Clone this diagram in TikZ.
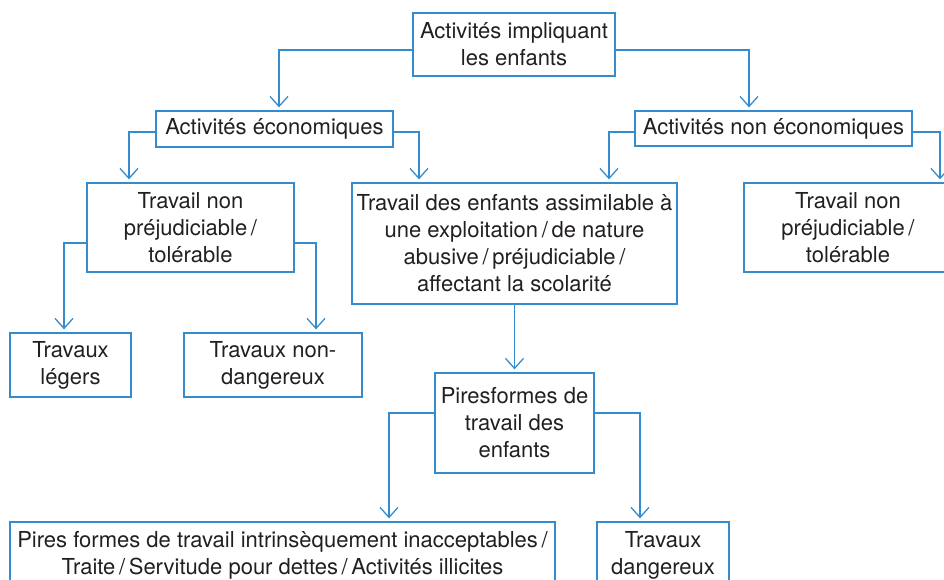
\documentclass[tikz,border=0pt]{standalone}
\usepackage{fontspec}
\setmainfont{TeX Gyre Heros}
\usetikzlibrary{arrows.meta}
\definecolor{lineblue}{RGB}{52,140,204}
\definecolor{txt}{RGB}{35,31,32}
\tikzset{
  box/.style={draw=lineblue, line width=1.3pt, inner sep=0pt, align=center,
    text=txt, font=\fontsize{22}{27}\selectfont},
  arr/.style={draw=lineblue, line width=1.3pt, shorten >=3pt,
    -{Straight Barb[length=10pt,width=18pt,line width=1.3pt]}}
}
\begin{document}
\begin{tikzpicture}[x=1pt,y=-1pt]
\useasboundingbox (0,0) rectangle (944,580);
\clip (0,0) rectangle (944,580);
\node[box, minimum width=202pt, minimum height=63pt] (top) at (514,44.5) {Activités impliquant\\les enfants};
\node[box, minimum width=237pt, minimum height=36pt] (eco) at (274.5,129) {Activités économiques};
\node[box, minimum width=277pt, minimum height=35pt] (noneco) at (773.5,128.5) {Activités non économiques};
\node[box, minimum width=207pt, minimum height=89pt] (tnpL) at (190.5,227.5) {Travail non\\préjudiciable\,/\\tolérable};
\node[box, minimum width=325pt, minimum height=121pt] (tde) at (514.5,243.5) {Travail des enfants assimilable à\\une exploitation\,/\,de nature\\abusive\,/\,préjudiciable\,/\\affectant la scolarité};
\node[box, minimum width=208pt, minimum height=89pt] (tnpR) at (848,227.5) {Travail non\\préjudiciable\,/\\tolérable};
\node[box, minimum width=121pt, minimum height=64pt] (legers) at (70.5,365) {Travaux\\légers};
\node[box, minimum width=178pt, minimum height=64pt] (nondang) at (273,365) {Travaux non-\\dangereux};
\node[box, minimum width=159pt, minimum height=100pt] (pires) at (514.5,423) {Piresformes de\\travail des\\enfants};
\node[box, minimum width=545pt, minimum height=66pt] (inacc) at (282.5,555) {Pires formes de travail intrinsèquement inacceptables\,/\\Traite\,/\,Servitude pour dettes\,/\,Activités illicites};
\node[box, minimum width=132pt, minimum height=66pt] (dang) at (663,555) {Travaux\\dangereux};

\draw[arr] ([yshift=-5.5pt]top.west) -| ([xshift=4.5pt]eco.north);
\draw[arr] ([yshift=-5.5pt]top.east) -| ([xshift=-24.5pt]noneco.north);
\draw[arr] ([yshift=-3pt]eco.west) -| ([xshift=-61.5pt]tnpL.north);
\draw[arr] ([yshift=-3pt]eco.east) -| ([xshift=-95.5pt]tde.north);
\draw[arr] ([yshift=-3.5pt]noneco.west) -| ([xshift=94.5pt]tde.north);
\draw[arr] ([yshift=-3.5pt]noneco.east) -| ([xshift=92pt]tnpR.north);
\draw[arr] ([yshift=-15.5pt]tnpL.west) -| ([xshift=-6.5pt]legers.north);
\draw[arr] ([yshift=-15.5pt]tnpL.east) -| ([xshift=43pt]nondang.north);
\draw[arr] (tde.south) -- (pires.north);
\draw[arr] ([yshift=10pt]pires.west) -| ([xshift=106.5pt]inacc.north);
\draw[arr] ([yshift=10pt]pires.east) -| ([xshift=-23pt]dang.north);
\end{tikzpicture}
\end{document}
